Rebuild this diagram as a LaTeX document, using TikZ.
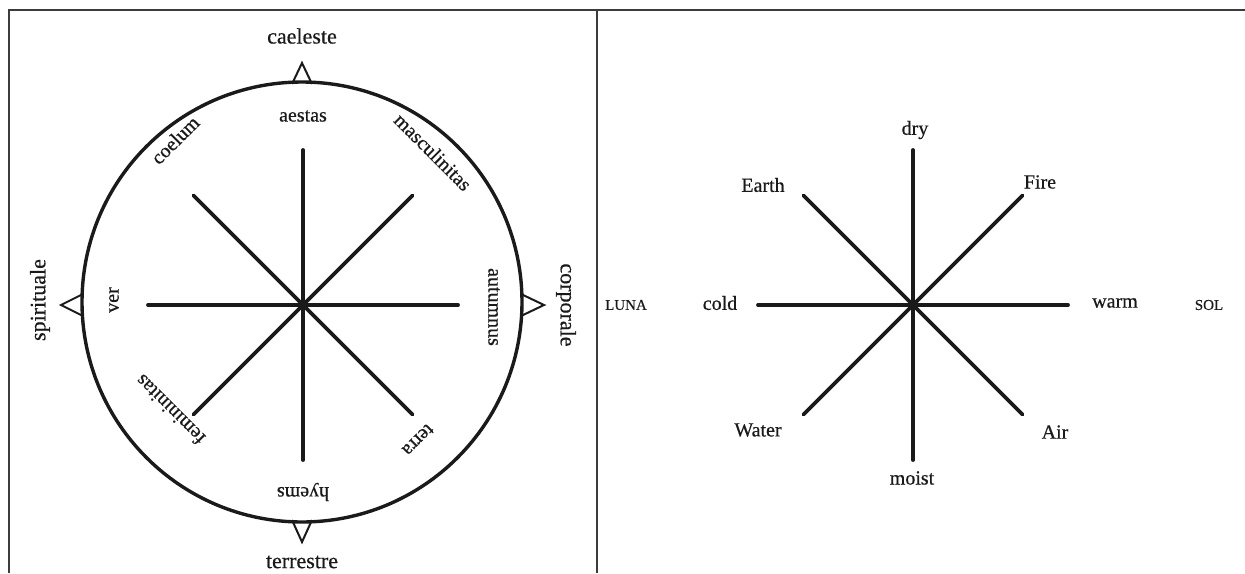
\documentclass[tikz,border=0pt]{standalone}
\usepackage{fontspec}
\setmainfont{Liberation Serif}[FakeBold=0.5]
\usetikzlibrary{positioning}
\definecolor{WheelInk}{HTML}{1A1A1A}
\definecolor{FrameInk}{HTML}{3C3C3C}
\tikzset{
  diagram/.style={x=1pt,y=-1pt,text=WheelInk,line cap=round},
  spoke/.style={draw=WheelInk,line width=3.8pt},
  rim/.style={draw=WheelInk,line width=3.4pt},
  pointer/.style={draw=WheelInk,line width=2pt,line join=miter,line cap=butt},
  frame/.style={draw=FrameInk,line width=1.8pt,line cap=butt},
  outer/.style={font=\fontsize{22}{25}\selectfont},
  inner/.style={font=\fontsize{20}{23}\selectfont},
  quality/.style={font=\fontsize{20}{23}\selectfont},
  planet/.style={font=\fontsize{15}{17}\selectfont},
}

\begin{document}
\begin{tikzpicture}[diagram]
  \useasboundingbox (0,0) rectangle (1245,573);
  \draw[frame] (8,10) -- (1245,10);
  \draw[frame] (9,10) -- (9,573);
  \draw[frame] (597,10) -- (597,573);

  \coordinate (wheel) at (303,305);
  \coordinate (cross) at (913,305);
  \foreach \a in {0,45,...,315}{
    \draw[spoke] (wheel) -- ++(\a:155);
    \draw[spoke] (cross) -- ++(\a:155);
  }
  \draw[rim] (302,302) circle[radius=220];

  \draw[pointer] (292,84) -- (302,63) -- (312,84);
  \draw[pointer] (292,520) -- (302,542) -- (312,520);
  \draw[pointer] (83,294) -- (61,305) -- (83,316);
  \draw[pointer] (521,294) -- (544,305) -- (521,316);

  \node[outer] (caeleste) at (302,36) {caeleste};
  \node[outer] (terrestre) at (302,562) {terrestre};
  \node[outer,rotate=90] (spirituale) at (40,300) {spirituale};
  \node[outer,rotate=-90] (corporale) at (566,305) {corporale};

  \node[inner] (aestas) at (303,116) {aestas};
  \node[inner,rotate=180] (hyems) at (303,492) {hyems};
  \node[inner,rotate=90] (ver) at (114,300) {ver};
  \node[inner,rotate=-90] (autumnus) at (494,307) {autumnus};
  \node[inner,rotate=45] (coelum) at (175,140) {coelum};
  \node[inner,rotate=-45] (masculinitas) at (433,152) {masculinitas};
  \node[inner,rotate=135] (femininitas) at (170,410) {femininitas};
  \node[inner,rotate=-135] (terra) at (418,440) {terra};

  \node[quality] (dry) at (915,130) {dry};
  \node[quality] (moist) at (912,478) {moist};
  \node[quality] (earth) at (763,185) {Earth};
  \node[quality] (fire) at (1040,182) {Fire};
  \node[quality] (water) at (758,430) {Water};
  \node[quality] (air) at (1055,432) {Air};
  \node[quality] (cold) at (720,303) {cold};
  \node[quality] (warm) at (1115,303) {warm};
  \node[planet] (luna) at (626,305) {LUNA};
  \node[planet] (sol) at (1209,305) {SOL};
\end{tikzpicture}
\end{document}
